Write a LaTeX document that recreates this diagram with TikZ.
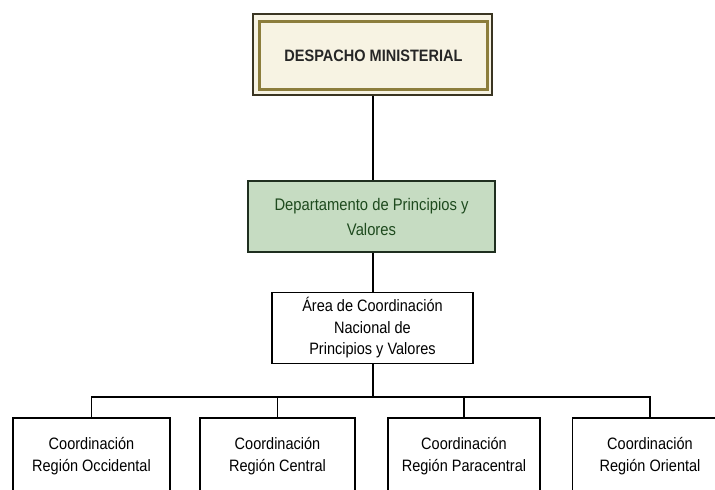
\documentclass[tikz,border=0pt]{standalone}
\usepackage{fontspec}
\setmainfont{Liberation Sans}[FakeStretch=0.88]
\definecolor{frameDark}{HTML}{3A3522}
\definecolor{frameOlive}{HTML}{8C7D3C}
\definecolor{creamFill}{HTML}{F7F3E3}
\definecolor{greenFill}{HTML}{C6DCC2}
\definecolor{greenText}{HTML}{1E4A1E}
\definecolor{greenEdge}{HTML}{1F2F1F}
\tikzset{
  orgbox/.style={draw=black, line width=1.8pt, fill=white, align=center,
    inner sep=0pt, font=\fontsize{16.5}{21.5}\selectfont},
  connector/.style={draw=black, line width=1.5pt},
}
\begin{document}
\begin{tikzpicture}[x=1pt,y=-1pt]
\useasboundingbox (0,0) rectangle (715,490);
\clip (0,0) rectangle (715,490);
% top box
\node[draw=frameDark, line width=1.8pt, fill=creamFill, minimum width=239pt, minimum height=81pt, inner sep=0pt] (desp) at (372.5,54.5) {};
\node[draw=frameOlive, line width=2.6pt, minimum width=228pt, minimum height=68pt, inner sep=0pt,
  font=\bfseries\fontsize{16.5}{20}\selectfont, text=black!85] (despin) at (373.5,55.5) {DESPACHO MINISTERIAL};
% department
\node[draw=greenEdge, line width=1.8pt, fill=greenFill, minimum width=247pt, minimum height=71pt,
  align=center, inner sep=0pt, text=greenText, font=\fontsize{16.8}{25}\selectfont] (dept) at (371.5,216.5)
  {Departamento de Principios y\\Valores};
% area
\node[orgbox, minimum width=201pt, minimum height=71pt] (area) at (372.5,328)
  {Área de Coordinación\\Nacional de\\Principios y Valores};
% bottom row
\node[orgbox, minimum width=157pt, minimum height=76pt] (r1) at (91.5,456) {Coordinación\\Región Occidental};
\node[orgbox, minimum width=155pt, minimum height=76pt] (r2) at (277.5,456) {Coordinación\\Región Central};
\node[orgbox, minimum width=152pt, minimum height=76pt] (r3) at (464,456) {Coordinación\\Región Paracentral};
\node[orgbox, minimum width=155pt, minimum height=76pt] (r4) at (650,456) {Coordinación\\Región Oriental};
% connectors
\coordinate (busL) at (91.5,397);
\coordinate (busR) at (650,397);
\coordinate (busM) at (373,397);
\draw[connector] (desp.south -| busM) -- (dept.north -| busM);
\draw[connector] (dept.south -| busM) -- (area.north -| busM);
\draw[connector] (area.south -| busM) -- (busM);
\draw[connector] (r1.north) -- (busL) -- (busR) -- (r4.north);
\draw[connector] (r2.north) -- (r2.north |- busL);
\draw[connector] (r3.north) -- (r3.north |- busL);
\end{tikzpicture}
\end{document}
